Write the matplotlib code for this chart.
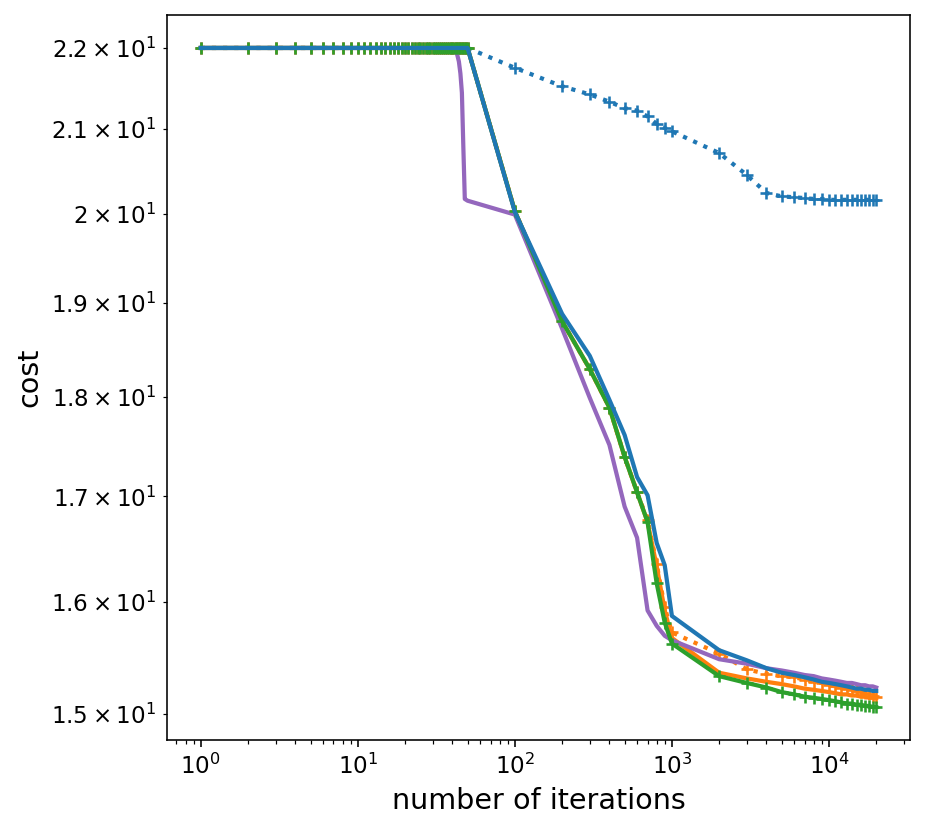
import matplotlib
matplotlib.use("Agg")
import matplotlib.pyplot as plt

iterations = [1, 2, 3, 4, 5, 6, 7, 8, 9, 10,
              11, 12, 13, 14, 15, 16, 17, 18, 19, 20,
              21, 22, 23, 24, 25, 26, 27, 28, 29, 30,
              31, 32, 33, 34, 35, 36, 37, 38, 39, 40,
              41, 42, 43, 44, 45, 46, 47, 48, 49, 50,
              100, 200, 300, 400, 500, 600, 700, 800, 900, 1000,
              2000, 3000, 4000, 5000, 6000, 7000, 8000, 9000, 10000, 11000,
              12000, 13000, 14000, 15000, 16000, 17000, 18000, 19000, 20000]

blue_dotted = [22.0, 22.0, 22.0, 22.0, 22.0, 22.0, 22.0, 22.0, 22.0, 22.0,
               22.0, 22.0, 22.0, 22.0, 22.0, 22.0, 22.0, 22.0, 22.0, 22.0,
               22.0, 22.0, 22.0, 22.0, 22.0, 22.0, 22.0, 22.0, 22.0, 22.0,
               22.0, 22.0, 22.0, 22.0, 22.0, 22.0, 22.0, 22.0, 22.0, 22.0,
               22.0, 22.0, 22.0, 22.0, 22.0, 22.0, 22.0, 22.0, 22.0, 22.0,
               21.75, 21.52, 21.42, 21.33, 21.25, 21.22, 21.15, 21.06, 21.01, 20.97,
               20.71, 20.45, 20.24, 20.20, 20.19, 20.18, 20.17, 20.17, 20.16, 20.16,
               20.16, 20.16, 20.16, 20.16, 20.16, 20.16, 20.16, 20.16, 20.16]

blue_solid = [22.0, 22.0, 22.0, 22.0, 22.0, 22.0, 22.0, 22.0, 22.0, 22.0,
              22.0, 22.0, 22.0, 22.0, 22.0, 22.0, 22.0, 22.0, 22.0, 22.0,
              22.0, 22.0, 22.0, 22.0, 22.0, 22.0, 22.0, 22.0, 22.0, 22.0,
              22.0, 22.0, 22.0, 22.0, 22.0, 22.0, 22.0, 22.0, 22.0, 22.0,
              22.0, 22.0, 22.0, 22.0, 22.0, 22.0, 22.0, 22.0, 22.0, 22.0,
              20.02, 18.88, 18.43, 17.97, 17.61, 17.19, 17.01, 16.55, 16.34, 15.87,
              15.56, 15.47, 15.40, 15.36, 15.34, 15.32, 15.30, 15.28, 15.27, 15.26,
              15.25, 15.24, 15.23, 15.22, 15.22, 15.21, 15.21, 15.20, 15.20]

green = [22.0, 22.0, 22.0, 22.0, 22.0, 22.0, 22.0, 22.0, 22.0, 22.0,
         22.0, 22.0, 22.0, 22.0, 22.0, 22.0, 22.0, 22.0, 22.0, 22.0,
         22.0, 22.0, 22.0, 22.0, 22.0, 22.0, 22.0, 22.0, 22.0, 22.0,
         22.0, 22.0, 22.0, 22.0, 22.0, 22.0, 22.0, 22.0, 22.0, 22.0,
         22.0, 22.0, 22.0, 22.0, 22.0, 22.0, 22.0, 22.0, 22.0, 22.0,
         20.03, 18.80, 18.29, 17.89, 17.39, 17.04, 16.75, 16.17, 15.81, 15.62,
         15.33, 15.27, 15.23, 15.19, 15.17, 15.15, 15.14, 15.13, 15.12, 15.11,
         15.10, 15.09, 15.09, 15.08, 15.08, 15.07, 15.07, 15.06, 15.06]

orange_solid = [22.0, 22.0, 22.0, 22.0, 22.0, 22.0, 22.0, 22.0, 22.0, 22.0,
                22.0, 22.0, 22.0, 22.0, 22.0, 22.0, 22.0, 22.0, 22.0, 22.0,
                22.0, 22.0, 22.0, 22.0, 22.0, 22.0, 22.0, 22.0, 22.0, 22.0,
                22.0, 22.0, 22.0, 22.0, 22.0, 22.0, 22.0, 22.0, 22.0, 22.0,
                22.0, 22.0, 22.0, 22.0, 22.0, 22.0, 22.0, 22.0, 22.0, 22.0,
                20.03, 18.80, 18.29, 17.89, 17.39, 17.04, 16.75, 16.33, 15.92, 15.67,
                15.36, 15.31, 15.28, 15.26, 15.24, 15.22, 15.21, 15.20, 15.19, 15.18,
                15.17, 15.17, 15.16, 15.16, 15.15, 15.15, 15.14, 15.14, 15.14]

orange_dotted = [22.0, 22.0, 22.0, 22.0, 22.0, 22.0, 22.0, 22.0, 22.0, 22.0,
                 22.0, 22.0, 22.0, 22.0, 22.0, 22.0, 22.0, 22.0, 22.0, 22.0,
                 22.0, 22.0, 22.0, 22.0, 22.0, 22.0, 22.0, 22.0, 22.0, 22.0,
                 22.0, 22.0, 22.0, 22.0, 22.0, 22.0, 22.0, 22.0, 22.0, 22.0,
                 22.0, 22.0, 22.0, 22.0, 22.0, 22.0, 22.0, 22.0, 22.0, 22.0,
                 20.03, 18.80, 18.29, 17.89, 17.39, 17.04, 16.77, 16.35, 15.95, 15.72,
                 15.53, 15.39, 15.35, 15.33, 15.32, 15.30, 15.28, 15.27, 15.25, 15.24,
                 15.23, 15.22, 15.21, 15.20, 15.19, 15.18, 15.17, 15.16, 15.15]

purple = [22.0, 22.0, 22.0, 22.0, 22.0, 22.0, 22.0, 22.0, 22.0, 22.0,
          22.0, 22.0, 22.0, 22.0, 22.0, 22.0, 22.0, 22.0, 22.0, 22.0,
          22.0, 22.0, 22.0, 22.0, 22.0, 22.0, 22.0, 22.0, 22.0, 22.0,
          22.0, 22.0, 22.0, 22.0, 22.0, 22.0, 22.0, 22.0, 22.0, 22.0,
          22.0, 21.98, 21.91, 21.83, 21.68, 21.44, 20.77, 20.17, 20.16, 20.15,
          19.99, 18.72, 17.99, 17.51, 16.90, 16.60, 15.92, 15.78, 15.69, 15.65,
          15.48, 15.44, 15.40, 15.38, 15.36, 15.34, 15.33, 15.31, 15.30, 15.29,
          15.28, 15.27, 15.27, 15.26, 15.25, 15.25, 15.24, 15.24, 15.23]

x_label = "number of iterations"
y_label = "cost"

C_BLUE, C_ORANGE, C_GREEN, C_PURPLE = "#1f77b4", "#ff7f0e", "#2ca02c", "#9467bd"

fig = plt.figure(figsize=(927 / 144, 833 / 144), dpi=144)
ax = fig.add_axes([167 / 927, 1 - 740 / 833, (910 - 167) / 927, (740 - 15) / 833])

lw = 2.1
ax.plot(iterations, blue_dotted, ls=":", marker="+", color=C_BLUE, lw=lw, ms=6, mew=1.3)
ax.plot(iterations, orange_dotted, ls=":", marker="+", color=C_ORANGE, lw=lw, ms=6, mew=1.3)
ax.plot(iterations, orange_solid, ls="-", color=C_ORANGE, lw=lw)
ax.plot(iterations, purple, ls="-", color=C_PURPLE, lw=lw)
ax.plot(iterations, green, ls="-", marker="+", color=C_GREEN, lw=lw, ms=6, mew=1.3)
ax.plot(iterations, blue_solid, ls="-", color=C_BLUE, lw=lw)

ax.set_xscale("log")
ax.set_yscale("log")
ax.tick_params(axis="both", which="both", labelsize=11.5)
ax.set_xlabel(x_label, fontsize=14.3)
ax.set_ylabel(y_label, fontsize=14.3)

fig.savefig("out.png", dpi=144)
